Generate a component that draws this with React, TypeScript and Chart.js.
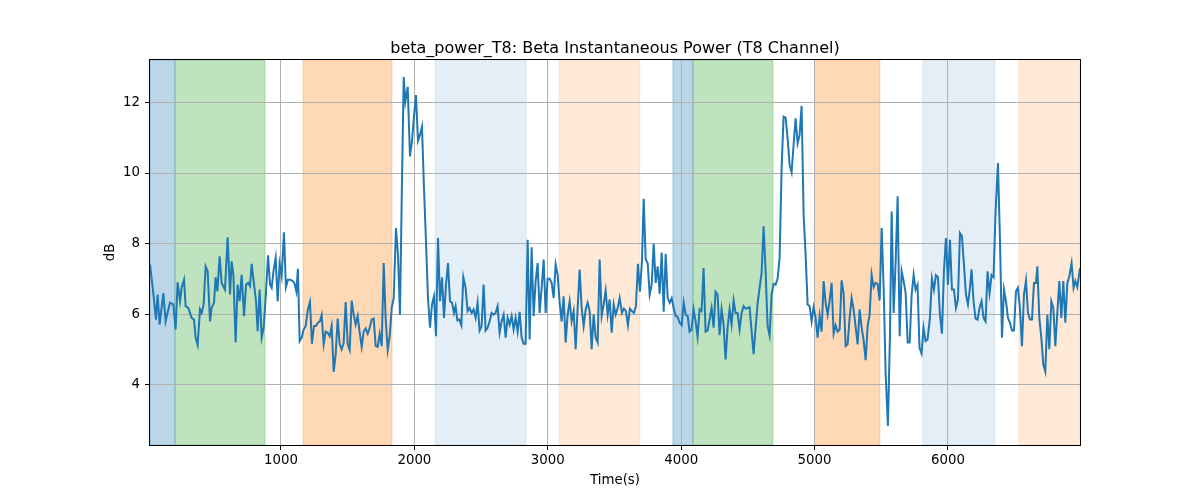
import React, { useEffect, useRef } from "react";
import { Chart, ChartConfiguration, Plugin, registerables } from "chart.js";

Chart.register(...registerables);

const chartTitle = "beta_power_T8: Beta Instantaneous Power (T8 Channel)";

// time stamps (s) of the T8 beta power samples
const timeS = [
  18, 40, 63, 75, 90, 118, 135, 150, 168, 193,
  210, 225, 243, 255, 273, 285, 305, 330, 348, 360,
  375, 393, 405, 420, 435, 450, 468, 480, 498, 510,
  523, 540, 555, 580, 600, 618, 630, 643, 660, 675,
  690, 705, 723, 738, 755, 768, 780, 798, 813, 825,
  840, 855, 870, 885, 903, 918, 930, 945, 960, 975,
  990, 1005, 1022, 1037, 1052, 1070, 1085, 1100, 1115, 1127,
  1140, 1155, 1170, 1185, 1200, 1217, 1232, 1247, 1262, 1277,
  1292, 1305, 1320, 1335, 1350, 1365, 1380, 1395, 1410, 1425,
  1440, 1455, 1470, 1485, 1500, 1515, 1530, 1545, 1560, 1575,
  1590, 1605, 1620, 1635, 1650, 1665, 1680, 1695, 1710, 1725,
  1740, 1755, 1770, 1785, 1800, 1815, 1830, 1845, 1862, 1877,
  1892, 1907, 1920, 1932, 1950, 1967, 1982, 1997, 2012, 2027,
  2042, 2057, 2072, 2087, 2102, 2117, 2132, 2147, 2162, 2177,
  2192, 2207, 2222, 2237, 2252, 2267, 2282, 2297, 2309, 2322,
  2337, 2352, 2367, 2384, 2399, 2414, 2429, 2444, 2459, 2474,
  2489, 2504, 2519, 2534, 2549, 2564, 2579, 2594, 2609, 2624,
  2639, 2654, 2669, 2684, 2699, 2714, 2729, 2744, 2759, 2774,
  2789, 2804, 2819, 2834, 2849, 2864, 2879, 2894, 2909, 2924,
  2939, 2954, 2969, 2984, 2999, 3014, 3029, 3044, 3059, 3074,
  3089, 3104, 3119, 3134, 3149, 3164, 3179, 3194, 3209, 3224,
  3239, 3254, 3269, 3284, 3299, 3314, 3329, 3344, 3359, 3374,
  3389, 3404, 3419, 3434, 3449, 3464, 3479, 3494, 3509, 3524,
  3539, 3556, 3571, 3586, 3601, 3616, 3631, 3646, 3661, 3676,
  3691, 3706, 3719, 3734, 3749, 3764, 3779, 3794, 3809, 3824,
  3839, 3854, 3869, 3884, 3899, 3914, 3929, 3944, 3959, 3974,
  3989, 4004, 4019, 4034, 4049, 4063, 4078, 4093, 4108, 4123,
  4138, 4153, 4168, 4183, 4198, 4213, 4228, 4243, 4258, 4273,
  4288, 4303, 4318, 4333, 4348, 4363, 4378, 4393, 4408, 4423,
  4438, 4453, 4468, 4483, 4498, 4513, 4528, 4543, 4558, 4573,
  4588, 4603, 4618, 4633, 4648, 4663, 4678, 4693, 4708, 4723,
  4738, 4753, 4768, 4783, 4798, 4813, 4828, 4843, 4858, 4873,
  4888, 4903, 4918, 4933, 4948, 4963, 4978, 4993, 5008, 5023,
  5038, 5053, 5068, 5083, 5098, 5113, 5128, 5143, 5158, 5173,
  5188, 5203, 5218, 5233, 5248, 5263, 5278, 5293, 5308, 5323,
  5338, 5353, 5368, 5383, 5398, 5413, 5428, 5443, 5458, 5473,
  5488, 5503, 5518, 5533, 5550, 5565, 5578, 5593, 5608, 5623,
  5638, 5653, 5668, 5683, 5698, 5713, 5728, 5743, 5757, 5772,
  5787, 5802, 5817, 5832, 5847, 5865, 5880, 5895, 5910, 5925,
  5940, 5955, 5970, 5985, 6000, 6015, 6030, 6045, 6060, 6075,
  6090, 6105, 6120, 6135, 6150, 6165, 6177, 6192, 6207, 6222,
  6237, 6252, 6267, 6282, 6297, 6312, 6327, 6342, 6357, 6375,
  6390, 6405, 6420, 6435, 6450, 6465, 6480, 6495, 6510, 6525,
  6540, 6555, 6570, 6585, 6600, 6615, 6630, 6645, 6660, 6670,
  6685, 6700, 6715, 6730, 6745, 6760, 6775, 6790, 6805, 6820,
  6835, 6850, 6865, 6880, 6895, 6910, 6927, 6942, 6955, 6970,
  6990,
];

// beta power (dB), one per time stamp
const powerDb = [
  7.41, 6.7, 5.85, 6.56, 5.71, 6.6, 5.8, 6.05, 6.33, 6.28,
  5.57, 6.91, 6.37, 6.75, 6.98, 6.23, 6.18, 5.9, 5.85, 5.34,
  5.13, 6.14, 6.04, 6.28, 7.36, 7.22, 5.8, 6.18, 6.33, 7.05,
  6.65, 7.64, 6.89, 6.7, 8.18, 6.56, 7.5, 7.12, 5.2, 6.84,
  6.37, 7.12, 5.95, 6.84, 6.89, 6.8, 7.43, 6.84, 6.37, 5.52,
  6.7, 5.34, 5.62, 6.46, 7.67, 6.84, 6.75, 7.26, 7.6, 6.37,
  7.43, 7.08, 8.32, 6.77, 6.98, 6.98, 6.95, 6.89, 6.65, 7.29,
  5.24, 5.34, 5.57, 5.67, 6.1, 6.35, 5.17, 5.67, 5.67, 5.76,
  5.8, 5.98, 5.15, 5.51, 5.48, 5.38, 5.67, 4.37, 4.87, 5.88,
  5.15, 5.01, 5.2, 6.35, 5.15, 4.99, 6.39, 5.99, 5.71, 5.95,
  5.48, 5.08, 5.52, 5.6, 5.45, 5.62, 5.85, 5.88, 5.1, 5.08,
  5.45, 5.1, 7.45, 5.85, 4.99, 5.38, 6.18, 6.46, 8.44, 7.69,
  5.99, 9.76, 12.72, 12.02, 12.44, 10.47, 10.9, 11.6, 12.21, 10.91,
  11.08, 11.31, 9.57, 8.07, 6.46, 5.62, 6.28, 6.51, 5.38, 8.16,
  6.37, 7.05, 5.9, 6.84, 7.45, 6.37, 6.33, 6.04, 6.23, 5.83,
  5.85, 5.69, 7.05, 6.75, 6.09, 6.18, 6.04, 6.14, 5.9, 6.33,
  5.54, 5.67, 6.84, 5.54, 5.62, 5.8, 6.04, 5.99, 6.04, 6.23,
  5.48, 5.8, 5.99, 5.34, 5.9, 5.71, 5.95, 5.57, 5.9, 5.51,
  6.07, 5.34, 5.17, 5.17, 8.11, 5.29, 7.9, 5.95, 6.94, 7.45,
  6.04, 6.75, 7.55, 6.04, 7.01, 7.01, 6.89, 6.46, 7.41, 7.12,
  6.33, 5.8, 6.51, 5.2, 5.99, 6.37, 5.8, 6.09, 5.01, 6.18,
  7.27, 6.18, 5.67, 6.14, 6.33, 6.09, 5.01, 5.99, 5.34, 5.2,
  7.55, 5.95, 6.28, 6.67, 5.99, 6.42, 5.48, 6.28, 5.99, 6.18,
  6.46, 6.04, 6.16, 6.09, 5.69, 6.16, 6.09, 6.04, 6.23, 7.43,
  6.64, 7.5, 9.27, 7.55, 7.45, 6.56, 6.84, 8.0, 6.89, 7.36,
  6.58, 7.75, 6.07, 7.71, 6.46, 6.33, 6.46, 6.18, 5.95, 5.92,
  5.76, 5.69, 6.33, 5.99, 5.95, 5.51, 5.57, 6.14, 5.8, 5.36,
  6.14, 6.09, 7.31, 5.51, 5.54, 5.85, 6.18, 5.62, 6.64, 6.56,
  5.41, 6.14, 5.71, 4.72, 5.62, 6.14, 5.71, 6.39, 6.04, 6.04,
  5.57, 6.04, 6.23, 6.16, 6.18, 6.2, 5.52, 4.87, 5.62, 6.3,
  6.75, 7.17, 8.49, 7.22, 5.67, 5.4, 6.56, 6.86, 6.84, 7.01,
  7.6, 10.14, 11.6, 11.57, 10.98, 10.23, 10.02, 10.8, 11.55, 10.84,
  11.08, 11.9, 8.82, 7.69, 6.28, 6.23, 5.8, 6.2, 5.9, 5.34,
  5.95, 5.51, 6.94, 6.33, 5.99, 6.39, 6.89, 5.45, 5.69, 5.51,
  5.57, 6.96, 6.58, 5.1, 5.15, 5.9, 6.46, 6.14, 5.64, 5.15,
  6.14, 5.62, 5.26, 4.7, 5.67, 5.99, 7.12, 6.77, 6.89, 6.86,
  6.39, 8.44, 6.75, 4.3, 2.84, 5.34, 8.91, 6.04, 7.5, 9.34,
  5.38, 7.22, 6.94, 6.6, 5.2, 5.2, 6.56, 7.12, 6.7, 6.84,
  5.05, 4.89, 5.62, 5.24, 5.29, 5.9, 7.01, 6.7, 7.11, 7.05,
  5.99, 5.45, 7.22, 8.16, 6.84, 8.11, 6.7, 6.7, 6.18, 6.42,
  8.3, 8.21, 7.41, 6.56, 6.28, 6.75, 7.27, 6.37, 5.88, 5.85,
  6.18, 6.37, 5.9, 5.8, 7.22, 6.6, 7.11, 7.05, 8.91, 10.28,
  8.11, 5.34, 6.7, 6.37, 5.9, 5.76, 5.54, 5.54, 6.65, 6.75,
  6.14, 5.1, 6.56, 6.96, 6.04, 5.85, 5.85, 6.89, 6.89, 7.36,
  5.9, 5.34, 4.58, 4.38, 5.99, 5.01, 6.37, 6.18, 5.1, 6.04,
  6.94, 5.9, 6.94, 5.76, 6.89, 7.08, 7.45, 6.75, 6.94, 6.77,
  7.31,
];

// shaded task segments (s)
const spanStart = [18, 205, 1165, 2155, 3085, 3938, 4088, 5000, 5812, 6532];
const spanEnd = [205, 880, 1832, 2837, 3690, 4088, 4688, 5490, 6352, 6990];
const spanKind = ["blue", "green", "orange", "paleBlue", "paleOrange", "blue", "green", "orange", "paleBlue", "paleOrange"];

const xTicks = [1000, 2000, 3000, 4000, 5000, 6000];
const yTicks = [4, 6, 8, 10, 12];

const spanColors: Record<string, string> = {
  blue: "rgba(31, 119, 180, 0.3)",
  green: "rgba(44, 160, 44, 0.3)",
  orange: "rgba(255, 127, 14, 0.3)",
  paleBlue: "rgba(31, 119, 180, 0.12)",
  paleOrange: "rgba(255, 127, 14, 0.16)",
};

const FONT = '"DejaVu Sans", sans-serif';

const spansPlugin: Plugin = {
  id: "spans",
  beforeDraw(chart) {
    const { ctx, chartArea } = chart;
    const xs = chart.scales.x;
    ctx.save();
    ctx.beginPath();
    ctx.rect(chartArea.left, chartArea.top, chartArea.right - chartArea.left, chartArea.bottom - chartArea.top);
    ctx.clip();
    spanStart.forEach((s, i) => {
      const x0 = xs.getPixelForValue(s);
      const x1 = xs.getPixelForValue(spanEnd[i]);
      ctx.fillStyle = spanColors[spanKind[i]];
      ctx.strokeStyle = spanColors[spanKind[i]];
      ctx.lineWidth = 1;
      ctx.fillRect(x0, chartArea.top, x1 - x0, chartArea.bottom - chartArea.top);
      ctx.strokeRect(x0, chartArea.top, x1 - x0, chartArea.bottom - chartArea.top);
    });
    ctx.restore();
  },
};

const frameAndTitlePlugin: Plugin = {
  id: "frameAndTitle",
  afterDraw(chart) {
    const { ctx, chartArea } = chart;
    ctx.save();
    ctx.strokeStyle = "#000";
    ctx.lineWidth = 1;
    ctx.strokeRect(
      Math.round(chartArea.left) - 0.5,
      Math.round(chartArea.top) - 0.5,
      Math.round(chartArea.right - chartArea.left) + 1,
      Math.round(chartArea.bottom - chartArea.top) + 1
    );
    ctx.fillStyle = "#000";
    ctx.font = `16px ${FONT}`;
    ctx.textAlign = "center";
    ctx.textBaseline = "alphabetic";
    ctx.fillText(chartTitle, (chartArea.left + chartArea.right) / 2, chartArea.top - 7.5);
    ctx.restore();
  },
};

const App: React.FC = () => {
  const canvasRef = useRef<HTMLCanvasElement | null>(null);
  const chartInstance = useRef<Chart | null>(null);

  useEffect(() => {
    if (!canvasRef.current) return;
    if (chartInstance.current) chartInstance.current.destroy();

    const tickFont = { family: FONT, size: 13.33 };
    const gridStyle = {
      color: "#b0b0b0",
      lineWidth: 1,
      tickColor: "#000",
      tickLength: 5,
      drawOnChartArea: true,
    };

    const config: ChartConfiguration<"line"> = {
      type: "line",
      data: {
        datasets: [
          {
            data: timeS.map((t, i) => ({ x: t, y: powerDb[i] })),
            borderColor: "#1f77b4",
            borderWidth: 2,
            pointRadius: 0,
            tension: 0,
            fill: false,
          },
        ],
      },
      options: {
        animation: false,
        responsive: true,
        maintainAspectRatio: false,
        layout: { padding: { left: 0, right: 120, top: 60, bottom: 0 } },
        plugins: {
          legend: { display: false },
          tooltip: { enabled: false },
          title: { display: false },
        },
        scales: {
          x: {
            type: "linear",
            min: 18,
            max: 6990,
            afterBuildTicks: (s) => {
              s.ticks = xTicks.map((v) => ({ value: v }));
            },
            afterFit: (s) => {
              s.height = 55;
            },
            grid: gridStyle,
            border: { display: false },
            ticks: {
              color: "#000",
              font: tickFont,
              padding: 3,
              maxRotation: 0,
              autoSkip: false,
              callback: (v) => String(v),
            },
            title: {
              display: true,
              text: "Time(s)",
              color: "#000",
              font: tickFont,
              padding: { top: 0, bottom: 11 },
            },
          },
          y: {
            type: "linear",
            min: 2.3,
            max: 13.2,
            afterBuildTicks: (s) => {
              s.ticks = yTicks.map((v) => ({ value: v }));
            },
            afterFit: (s) => {
              s.width = 150;
            },
            grid: gridStyle,
            border: { display: false },
            ticks: {
              color: "#000",
              font: tickFont,
              padding: 5,
              autoSkip: false,
              callback: (v) => String(v),
            },
            title: {
              display: true,
              text: "dB",
              color: "#000",
              font: tickFont,
              padding: { top: 103, bottom: 0 },
            },
          },
        },
      },
      plugins: [spansPlugin, frameAndTitlePlugin],
    };

    chartInstance.current = new Chart(canvasRef.current, config);

    return () => {
      if (chartInstance.current) {
        chartInstance.current.destroy();
        chartInstance.current = null;
      }
    };
  }, []);

  return (
    <div style={{ position: "absolute", left: 0, top: 0, width: 1200, height: 500, background: "#fff" }}>
      <canvas ref={canvasRef}></canvas>
    </div>
  );
};

export default App;
